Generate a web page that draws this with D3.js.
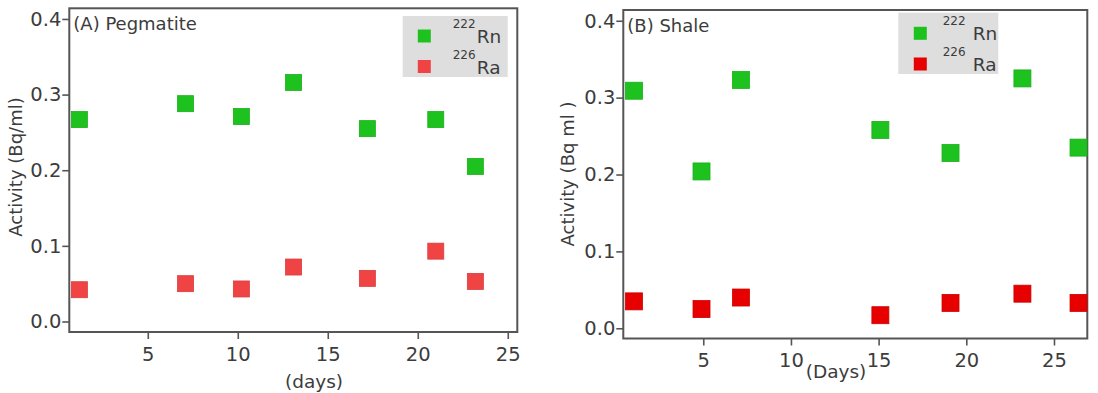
<!DOCTYPE html>
<html>
<head>
<meta charset="utf-8">
<script src="https://cdn.jsdelivr.net/npm/d3@7"></script>
<style>
  body { margin: 0; background: #fff; }
  svg text { font-family: "DejaVu Sans", "Liberation Sans", Arial, sans-serif; fill: #3c3c3c; }
</style>
</head>
<body>
<div id="chart"></div>
<script>
'use strict';

// Panel A: pegmatite
const pegDays = [1.2, 7.1, 10.2, 13.1, 17.2, 21.0, 23.2];
const pegRn = [0.267, 0.288, 0.271, 0.316, 0.255, 0.267, 0.205];
const pegRa = [0.042, 0.050, 0.043, 0.072, 0.057, 0.093, 0.053];

// Panel B: shale
const shaleDays = [1.05, 4.9, 7.15, 15.1, 19.1, 23.2, 26.4];
const shaleRn = [0.309, 0.204, 0.323, 0.258, 0.228, 0.325, 0.235];
const shaleRa = [0.035, 0.025, 0.040, 0.017, 0.033, 0.045, 0.033];

const yTicks = [0, 0.1, 0.2, 0.3, 0.4];
const xTicks = [5, 10, 15, 20, 25];
const seriesNames = ['222|Rn', '226|Ra'];

const svg = d3.select('#chart')
  .append('svg')
  .attr('width', 1098)
  .attr('height', 393);

/**
 * Draw one scatter panel with its frame, axes and legend.
 */
function drawPanel(opt) {
  const x = d3.scaleLinear().domain(opt.xDomain).range([opt.left, opt.right]);
  const y = d3.scaleLinear().domain(opt.yDomain).range([opt.bottom, opt.top]);

  const g = svg.append('g');

  // y axis
  g.append('g')
    .attr('transform', `translate(${opt.left},0)`)
    .call(d3.axisLeft(y).tickValues(yTicks).tickFormat(d3.format('.1f'))
      .tickSize(7).tickPadding(1))
    .call(a => a.select('.domain').remove())
    .call(a => a.selectAll('line').attr('stroke', '#555').attr('stroke-width', 1.6))
    .call(a => a.selectAll('text').attr('font-size', 19.5).attr('fill', null)
      .attr('font-family', null));

  // x axis
  g.append('g')
    .attr('transform', `translate(0,${opt.bottom})`)
    .call(d3.axisBottom(x).tickValues(xTicks).tickSize(7).tickPadding(8))
    .call(a => a.select('.domain').remove())
    .call(a => a.selectAll('line').attr('stroke', '#555').attr('stroke-width', 1.6))
    .call(a => a.selectAll('text').attr('font-size', 19.5).attr('fill', null)
      .attr('font-family', null));

  // frame
  g.append('rect')
    .attr('x', opt.left)
    .attr('y', opt.top)
    .attr('width', opt.right - opt.left)
    .attr('height', opt.bottom - opt.top)
    .attr('fill', 'none')
    .attr('stroke', '#555')
    .attr('stroke-width', 2);

  // legend box
  const lg = opt.legend;
  g.append('rect')
    .attr('x', lg.x)
    .attr('y', lg.y)
    .attr('width', lg.w)
    .attr('height', lg.h)
    .attr('fill', '#dedede');

  [opt.rnColor, opt.raColor].forEach((c, i) => {
    const cy = lg.y + lg.rowY[i];
    g.append('rect')
      .attr('x', lg.x + lg.markX - 6.5)
      .attr('y', cy - 6.5)
      .attr('width', 13)
      .attr('height', 13)
      .attr('fill', c);
    const [mass, el] = seriesNames[i].split('|');
    g.append('text')
      .attr('x', lg.x + lg.supX)
      .attr('y', cy - 8)
      .attr('font-size', 12)
      .text(mass);
    g.append('text')
      .attr('x', lg.x + lg.elX)
      .attr('y', cy + 7)
      .attr('font-size', 18.5)
      .text(el);
  });

  // markers
  const drawSeries = (vals, color, size) => {
    g.selectAll(null)
      .data(opt.days.map((d, i) => ({d: d, v: vals[i]})))
      .join('rect')
      .attr('x', p => x(p.d) - size / 2)
      .attr('y', p => y(p.v) - size / 2)
      .attr('width', size)
      .attr('height', size)
      .attr('fill', color)
      .attr('stroke', d3.color(color).darker(0.3))
      .attr('stroke-width', 0.8);
  };
  drawSeries(opt.rn, opt.rnColor, opt.markSize);
  drawSeries(opt.ra, opt.raColor, opt.markSize);

  // title inside the frame
  g.append('text')
    .attr('x', opt.left + 4)
    .attr('y', opt.top + opt.titleDy)
    .attr('font-size', 18)
    .text(opt.title);

  // axis labels
  g.append('text')
    .attr('transform', `translate(${opt.yLabelX},${opt.yLabelY}) rotate(-90)`)
    .attr('text-anchor', 'middle')
    .attr('font-size', 18)
    .text(opt.yLabel);

  g.append('text')
    .attr('x', opt.xLabelX)
    .attr('y', opt.xLabelY)
    .attr('text-anchor', 'middle')
    .attr('font-size', 18.5)
    .text(opt.xLabel);
}

drawPanel({
  left: 69.3, right: 517.3, top: 8.3, bottom: 332,
  xDomain: [0.64, 25.53], yDomain: [-0.0139, 0.4141],
  days: pegDays, rn: pegRn, ra: pegRa,
  rnColor: '#1ec21e', raColor: '#f04444', markSize: 16,
  title: '(A) Pegmatite', titleDy: 22,
  yLabel: 'Activity (Bq/ml)', yLabelX: 22, yLabelY: 167,
  xLabel: '(days)', xLabelX: 314, xLabelY: 388,
  legend: {x: 402.7, y: 16, w: 105, h: 61, rowY: [20, 50.5], markX: 21.6,
    supX: 50, elX: 74}
});

drawPanel({
  left: 623.3, right: 1087.3, top: 10, bottom: 338.5,
  xDomain: [0.44, 26.9], yDomain: [-0.0133, 0.414],
  days: shaleDays, rn: shaleRn, ra: shaleRa,
  rnColor: '#1ec21e', raColor: '#e60000', markSize: 17,
  title: '(B) Shale', titleDy: 22,
  yLabel: 'Activity (Bq ml   )', yLabelX: 574, yLabelY: 174,
  xLabel: '(Days)', xLabelX: 836, xLabelY: 378,
  legend: {x: 898.3, y: 12.7, w: 100, h: 61.3, rowY: [20.6, 51.3], markX: 22,
    supX: 44.4, elX: 74.4}
});
</script>
</body>
</html>
